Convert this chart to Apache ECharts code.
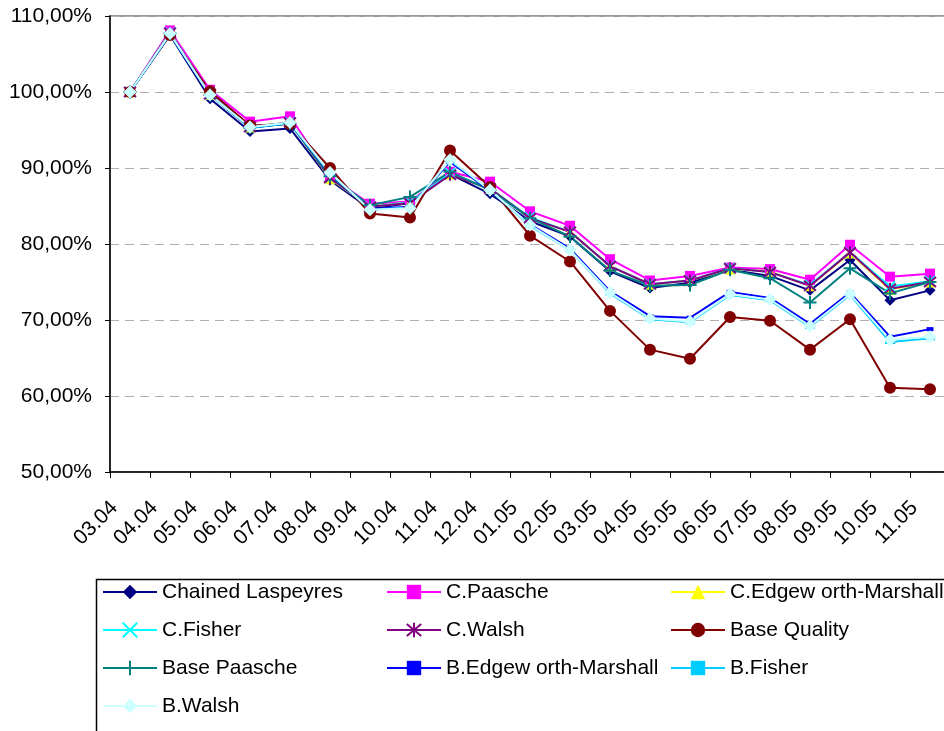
<!DOCTYPE html>
<html>
<head>
<meta charset="utf-8">
<script src="https://cdn.jsdelivr.net/npm/echarts@6/dist/echarts.min.js"></script>
<style>
html,body{margin:0;padding:0;background:#fff;}
#chart{width:944px;height:731px;}
</style>
</head>
<body>
<div id="chart"></div>
<script>
var categories = ['03.04','04.04','05.04','06.04','07.04','08.04','09.04','10.04','11.04','12.04','01.05','02.05','03.05','04.05','05.05','06.05','07.05','08.05','09.05','10.05','11.05'];

var chainedLaspeyres = [100, 107.5, 99.1, 94.8, 95.2, 88.4, 84.6, 85.4, 89.2, 86.6, 83.0, 81.0, 76.4, 74.2, 74.9, 76.6, 75.8, 73.9, 77.9, 72.6, 73.9];
var cPaasche = [100, 108.1, 100.3, 96.1, 96.8, 88.8, 85.3, 85.6, 89.5, 88.2, 84.3, 82.4, 78.0, 75.2, 75.8, 76.9, 76.7, 75.3, 79.9, 75.7, 76.1];
var cEdgeworth = [100, 107.8, 99.7, 95.4, 96.0, 88.6, 84.9, 85.5, 89.2, 87.3, 83.4, 81.6, 77.1, 74.7, 75.2, 76.7, 76.4, 74.5, 78.8, 74.0, 75.0];
var cFisher = [100, 107.8, 99.7, 95.4, 96.0, 88.7, 84.9, 85.5, 89.3, 87.3, 83.5, 81.6, 77.1, 74.7, 75.2, 76.8, 76.3, 74.6, 78.9, 74.4, 75.1];
var cWalsh = [100, 107.8, 99.7, 95.4, 96.0, 88.7, 84.9, 85.4, 89.1, 87.3, 83.4, 81.6, 77.1, 74.7, 75.2, 76.8, 76.3, 74.5, 78.9, 74.1, 75.0];
var baseQuality = [100, 107.5, 100.1, 95.6, 95.8, 90.0, 84.0, 83.5, 92.3, 87.5, 81.1, 77.7, 71.2, 66.1, 64.9, 70.4, 69.9, 66.1, 70.1, 61.1, 60.9];
var basePaasche = [100, 107.7, 99.6, 95.3, 95.9, 88.9, 85.1, 86.2, 89.5, 87.1, 83.4, 81.0, 76.5, 74.5, 74.6, 76.6, 75.5, 72.3, 76.8, 73.5, 75.0];
var bEdgeworth = [100, 107.6, 99.6, 95.3, 95.9, 89.2, 84.6, 84.9, 90.8, 87.0, 82.6, 79.4, 73.8, 70.5, 70.3, 73.7, 72.9, 69.5, 73.6, 67.8, 68.8];
var bFisher = [100, 107.6, 99.6, 95.3, 95.9, 89.3, 84.5, 84.8, 91.0, 87.1, 82.4, 79.2, 73.5, 70.1, 69.7, 73.3, 72.6, 69.1, 73.3, 67.1, 67.6];
var bWalsh = [100, 107.7, 99.6, 95.4, 96.0, 89.4, 84.5, 84.7, 91.1, 87.1, 82.5, 79.2, 73.6, 70.2, 69.8, 73.4, 72.7, 69.2, 73.4, 67.4, 67.8];

var seriesNames = ['Chained Laspeyres','C.Paasche','C.Edgew orth-Marshall','C.Fisher','C.Walsh','Base Quality','Base Paasche','B.Edgew orth-Marshall','B.Fisher','B.Walsh'];
var seriesData = [chainedLaspeyres, cPaasche, cEdgeworth, cFisher, cWalsh, baseQuality, basePaasche, bEdgeworth, bFisher, bWalsh];
var seriesColors = ['#000080','#FF00FF','#FFFF00','#00FFFF','#800080','#800000','#008080','#0000FF','#00CCFF','#CCFFFF'];

var yMin = 50, yMax = 110, yStep = 10;

var symbols = [
  {symbol:'diamond', size:11},
  {symbol:'rect', size:10},
  {symbol:'triangle', size:11},
  {symbol:'path://M0,0L10,10M10,0L0,10', size:10, stroke:true},
  {symbol:'path://M0,0L10,10M10,0L0,10M5,-1L5,11', size:12, stroke:true},
  {symbol:'circle', size:12},
  {symbol:'path://M5,0L5,10M0,5L10,5', size:13, stroke:true},
  {symbol:'rect', size:[7,4]},
  {symbol:'rect', size:[10,4]},
  {symbol:'diamond', size:13}
];

var series = seriesNames.map(function(name, i){
  var s = symbols[i];
  var is = {color: seriesColors[i]};
  if (s.stroke) { is.borderColor = seriesColors[i]; is.borderWidth = 2; }
  return {
    name: name,
    type: 'line',
    data: seriesData[i],
    symbol: s.symbol,
    symbolSize: s.size,
    showSymbol: true,
    showAllSymbol: true,
    lineStyle: {color: seriesColors[i], width: 2},
    itemStyle: is,
    emphasis: {disabled: true}
  };
});

var chart = echarts.init(document.getElementById('chart'), null, {renderer:'canvas'});
chart.setOption({
  animation: false,
  backgroundColor: '#fff',
  textStyle: {fontFamily: 'Liberation Sans, Arial, sans-serif'},
  grid: {left:110, top:16, width:840, height:456, show:true, borderColor:'#999', borderWidth:2, containLabel:false, outerBoundsMode:'none'},
  xAxis: {
    type: 'category',
    data: categories,
    boundaryGap: true,
    axisLine: {lineStyle: {color:'#000', width:1.5}},
    axisTick: {show:true, length:6, lineStyle:{color:'#000', width:1}},
    axisLabel: {rotate:45, fontSize:21, color:'#000', margin:17, padding:[0,22,0,0], interval:0, fontFamily:'Liberation Sans, Arial, sans-serif'},
    splitLine: {show:false}
  },
  yAxis: {
    type: 'value',
    min: yMin, max: yMax, interval: yStep,
    axisLine: {show:true, lineStyle: {color:'#000', width:1.5}},
    axisTick: {show:true, length:5, lineStyle:{color:'#000', width:1}},
    axisLabel: {fontSize:21, color:'#000', margin:18, fontFamily:'Liberation Sans, Arial, sans-serif',
      formatter: function(v){ return v.toFixed(2).replace('.', ',') + '%'; }},
    splitLine: {show:true, lineStyle:{color:'#b0b0b0', width:1, type:[9,6]}}
  },
  legend: {
    data: seriesNames,
    left: 102, top: 578, width: 842,
    orient: 'horizontal',
    padding: 0,
    itemWidth: 54, itemHeight: 18, itemGap: 10,
    textStyle: {fontSize:21, color:'#000', width:214, lineHeight:28, overflow:'none', fontFamily:'Liberation Sans, Arial, sans-serif'},
    selectedMode: false
  },
  graphic: [{
    type: 'rect', left: 94, top: 577, silent: true,
    shape: {width: 900, height: 200},
    style: {fill: 'none', stroke: '#000', lineWidth: 1.5}
  }],
  series: series
});
</script>
</body>
</html>
